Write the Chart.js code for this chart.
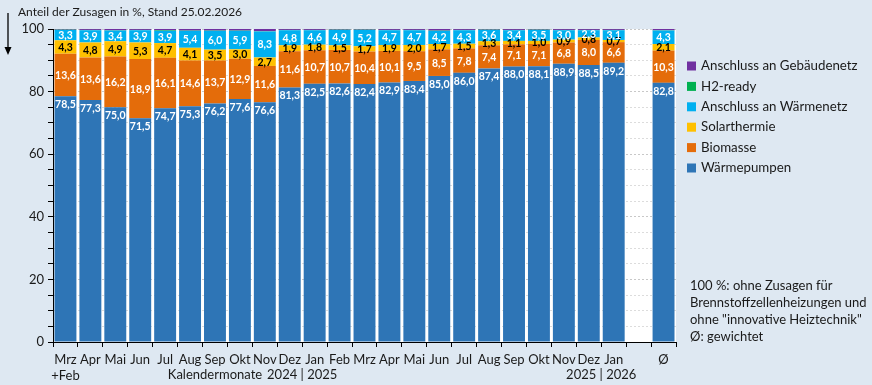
<!DOCTYPE html>
<html>
<head>
<meta charset="utf-8">
<script src="https://cdn.jsdelivr.net/npm/chart.js@4"></script>
<style>
  html,body{margin:0;padding:0;background:#dee8f2;}
  #wrap{width:872px;height:385px;}
</style>
</head>
<body>
<div id="wrap"><canvas id="c" width="872" height="385"></canvas></div>
<script>
const categories = [['Mrz','+Feb'],'Apr','Mai','Jun','Jul','Aug','Sep','Okt','Nov','Dez','Jan','Feb','Mrz','Apr','Mai','Jun','Jul','Aug','Sep','Okt','Nov','Dez','Jan','','Ø'];
const waermepumpen = [78.5,77.3,75.0,71.5,74.7,75.3,76.2,77.6,76.6,81.3,82.5,82.6,82.4,82.9,83.4,85.0,86.0,87.4,88.0,88.1,88.9,88.5,89.2,null,82.8];
const biomasse     = [13.6,13.6,16.2,18.9,16.1,14.6,13.7,12.9,11.6,11.6,10.7,10.7,10.4,10.1,9.5,8.5,7.8,7.4,7.1,7.1,6.8,8.0,6.6,null,10.3];
const solarthermie = [4.3,4.8,4.9,5.3,4.7,4.1,3.5,3.0,2.7,1.9,1.8,1.5,1.7,1.9,2.0,1.7,1.5,1.3,1.1,1.0,0.9,0.8,0.7,null,2.1];
const waermenetz   = [3.3,3.9,3.4,3.9,3.9,5.4,6.0,5.9,8.3,4.8,4.6,4.9,5.2,4.7,4.7,4.2,4.3,3.6,3.4,3.5,3.0,2.3,3.1,null,4.3];
const h2ready      = [0.1,0.1,0.1,0.1,0.2,0.1,0.1,0.1,0.1,0.1,0.1,0.1,0.1,0.1,0.1,0.1,0.1,0.1,0.1,0.1,0.1,0.1,0.1,null,0.1];
const gebaeudenetz = [0.2,0.3,0.4,0.3,0.4,0.5,0.5,0.5,0.7,0.3,0.3,0.2,0.2,0.3,0.3,0.5,0.3,0.2,0.3,0.2,0.3,0.3,0.3,null,0.4];
const yTickLabels = [0,20,40,60,80,100];
const axisTitle = 'Anteil der Zusagen in %, Stand 25.02.2026';
const secondRow = [
  {text:'Kalendermonate', at:6},
  {text:'2024 | 2025', at:9.5},
  {text:'2025 | 2026', at:21.5}
];
const noteLines = ['100 %: ohne Zusagen für','Brennstoffzellenheizungen und','ohne "innovative Heiztechnik"','Ø: gewichtet'];

const FONT = 'Lato, "Liberation Sans", sans-serif';
const TXT = '#1a1a1a';

const datasets = [
  {label:'Wärmepumpen', data:waermepumpen, backgroundColor:'#2e75b6', labelColor:'#ffffff', labelPos:'top'},
  {label:'Biomasse', data:biomasse, backgroundColor:'#e46c0a', labelColor:'#ffffff'},
  {label:'Solarthermie', data:solarthermie, backgroundColor:'#ffc000', labelColor:'#000000'},
  {label:'Anschluss an Wärmenetz', data:waermenetz, backgroundColor:'#00b0f0', labelColor:'#ffffff'},
  {label:'H2-ready', data:h2ready, backgroundColor:'#00b050'},
  {label:'Anschluss an Gebäudenetz', data:gebaeudenetz, backgroundColor:'#7030a0'}
].map(d => Object.assign(d, {barPercentage:0.88, categoryPercentage:1.0, borderWidth:0}));

const plotBg = {
  id:'plotBg',
  beforeDraw(chart){
    const {ctx, chartArea:a} = chart;
    ctx.save();
    ctx.fillStyle = '#ffffff';
    ctx.fillRect(a.left, a.top, a.right - a.left, a.bottom - a.top);
    ctx.restore();
  }
};

const valueLabels = {
  id:'valueLabels',
  afterDatasetsDraw(chart){
    const ctx = chart.ctx;
    ctx.save();
    ctx.font = 'bold 10.5px ' + FONT;
    ctx.textAlign = 'center';
    ctx.textBaseline = 'middle';
    chart.data.datasets.forEach((ds, i) => {
      if (!ds.labelColor) return;
      const meta = chart.getDatasetMeta(i);
      meta.data.forEach((el, j) => {
        const v = ds.data[j];
        if (v === null || v === undefined) return;
        ctx.fillStyle = ds.labelColor;
        const y = ds.labelPos === 'top' ? el.y + 8 : (el.y + el.base) / 2;
        ctx.fillText(v.toFixed(1).replace('.', ','), el.x, y + 0.5);
      });
    });
    ctx.restore();
  }
};

const extras = {
  id:'extras',
  afterDraw(chart){
    const ctx = chart.ctx;
    const xs = chart.scales.x;
    ctx.save();
    // axis title
    ctx.fillStyle = TXT;
    ctx.font = '12px ' + FONT;
    ctx.textAlign = 'left';
    ctx.textBaseline = 'middle';
    ctx.fillText(axisTitle, 18, 12);
    // arrow
    ctx.strokeStyle = '#000';
    ctx.lineWidth = 1.3;
    ctx.beginPath();
    ctx.moveTo(8, 13);
    ctx.lineTo(8, 49);
    ctx.stroke();
    ctx.fillStyle = '#000';
    ctx.beginPath();
    ctx.moveTo(4.5, 47);
    ctx.lineTo(11.5, 47);
    ctx.lineTo(8, 55);
    ctx.closePath();
    ctx.fill();
    // second row of x labels
    ctx.fillStyle = TXT;
    ctx.font = '13px ' + FONT;
    ctx.textAlign = 'center';
    ctx.textBaseline = 'middle';
    secondRow.forEach(r => {
      const lo = Math.floor(r.at), hi = Math.ceil(r.at);
      const px = (xs.getPixelForValue(lo) + xs.getPixelForValue(hi)) / 2;
      ctx.fillText(r.text, px, 375);
    });
    // legend (reversed)
    ctx.font = '13.3px ' + FONT;
    ctx.textAlign = 'left';
    const dsets = chart.data.datasets;
    let row = 0;
    for (let i = dsets.length - 1; i >= 0; i--) {
      const y = 66 + row * 20.4;
      ctx.fillStyle = dsets[i].backgroundColor;
      ctx.fillRect(687, y - 4.5, 9, 9);
      ctx.fillStyle = TXT;
      ctx.fillText(dsets[i].label, 701, y);
      row++;
    }
    // note
    ctx.font = '13px ' + FONT;
    noteLines.forEach((t, k) => ctx.fillText(t, 690, 286 + k * 17));
    ctx.restore();
  }
};

new Chart(document.getElementById('c'), {
  type:'bar',
  data:{labels:categories, datasets},
  options:{
    responsive:false,
    devicePixelRatio:1,
    animation:false,
    layout:{padding:{left:0, right:196, top:29, bottom:0}},
    plugins:{legend:{display:false}, tooltip:{enabled:false}},
    scales:{
      x:{
        stacked:true,
        grid:{offset:true, drawOnChartArea:false, tickLength:5, tickColor:'#000', tickWidth:1},
        border:{color:'#000', width:1},
        ticks:{color:TXT, font:{family:FONT, size:13}, maxRotation:0, autoSkip:false, padding:5},
        afterFit(s){ s.height = 43; }
      },
      y:{
        stacked:true,
        min:0, max:100,
        grid:{
          color:(c)=> (c.tick && c.tick.value % 20 === 0) ? '#c8c8c8' : '#dcdcdc',
          tickColor:'#000', tickLength:5, tickWidth:1
        },
        border:{color:'#000', width:1, dash:[2,2]},
        ticks:{
          stepSize:5, autoSkip:false, color:TXT, font:{family:FONT, size:13}, padding:4,
          callback:(v)=> yTickLabels.includes(v) ? String(v) : ''
        },
        afterFit(s){ s.width = 53; }
      }
    }
  },
  plugins:[plotBg, valueLabels, extras]
});
</script>
</body>
</html>
